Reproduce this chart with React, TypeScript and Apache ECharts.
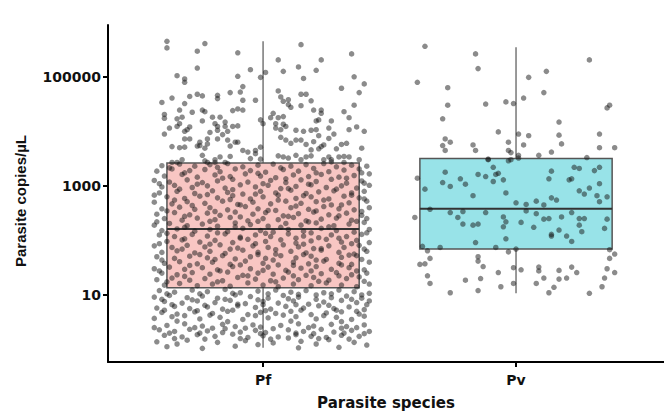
import React, { useEffect, useRef } from "react";
import * as echarts from "echarts";

// Categories and tick labels
const species = ["Pf", "Pv"];
const yTickValues = [10, 1000, 100000];

// Box statistics in log10(parasite copies/µL): [q1, median, q3, lowerWhisker, upperWhisker]
const pfBox = [1.13, 2.21, 3.42, 0.03, 5.65];
const pvBox = [1.84, 2.58, 3.5, 1.03, 5.54];

// Jittered points: [horizontal jitter (category units), log10(parasite copies/µL)]
const pfUpper: number[][] = [
  [-0.38,5.65],[-0.38,5.53],[-0.23,5.61],[-0.26,5.47],[-0.10,5.44],[0.15,5.59],[0.35,5.42],[0.06,5.31],[0.23,5.31],[0.14,5.18],
  [-0.26,5.16],[-0.05,5.13],[0.08,5.10],[0.21,5.12],[-0.34,5.02],[-0.31,4.96],[-0.31,4.90],[-0.10,5.01],[0.01,5.08],[-0.01,4.99],
  [0.16,4.97],[0.36,5.00],[0.40,4.87],[0.31,4.79],[-0.08,4.82],[-0.09,4.72],[-0.13,4.71],[0.06,4.74],[0.38,4.71],[-0.26,4.68],
  [-0.29,4.64],[-0.24,4.65],[-0.36,4.61],[-0.18,4.66],[-0.18,4.60],[-0.08,4.57],[-0.03,4.57],[0.15,4.68],[0.17,4.68],[0.07,4.63],
  [0.08,4.55],[0.10,4.58],[0.10,4.49],[0.19,4.56],[-0.40,4.53],[-0.31,4.51],[0.36,4.48],[0.15,4.47],[0.11,4.44],[-0.33,4.39],
  [-0.28,4.35],[-0.24,4.39],[-0.23,4.36],[-0.12,4.38],[-0.10,4.41],[-0.08,4.39],[0.03,4.25],[0.04,4.33],[0.06,4.25],[0.08,4.27],
  [0.20,4.39],[0.23,4.39],[0.23,4.33],[0.32,4.36],[0.34,4.25],[-0.39,4.31],[-0.39,4.24],[-0.34,4.23],[-0.32,4.26],[-0.20,4.26],
  [-0.17,4.26],[-0.15,4.17],[-0.24,4.19],[-0.19,4.14],[-0.15,4.09],[-0.18,4.09],[-0.12,4.09],[-0.10,4.10],[-0.01,4.21],[0.00,4.14],
  [0.05,4.14],[0.05,4.06],[0.08,4.13],[0.09,4.09],[0.21,4.19],[0.22,4.21],[0.27,4.19],[0.26,4.06],[0.34,4.03],[0.37,4.08],
  [0.40,4.00],[-0.37,4.06],[-0.34,4.09],[-0.33,4.14],[-0.29,4.08],[-0.30,4.03],[-0.31,4.00],[-0.39,3.95],[-0.21,3.98],[-0.18,4.02],
  [-0.14,4.00],[-0.16,3.94],[-0.14,3.84],[-0.11,3.80],[-0.10,3.80],[-0.18,3.86],[-0.22,3.86],[-0.25,3.80],[-0.31,3.86],[-0.29,3.86],
  [0.07,4.03],[0.07,3.89],[0.13,4.02],[0.16,4.00],[0.19,4.02],[0.21,4.03],[0.22,3.92],[0.26,3.87],[0.28,3.95],[0.24,3.75],
  [0.20,3.81],[0.09,3.84],[0.11,3.78],[0.13,3.84],[0.15,3.84],[0.17,3.76],[0.29,3.68],[0.31,3.76],[0.33,3.78],[0.19,3.66],
  [0.22,3.68],[0.23,3.72],[-0.36,3.72],[-0.33,3.70],[-0.31,3.71],[-0.26,3.73],[-0.25,3.74],[-0.23,3.69],[-0.22,3.77],[-0.13,3.73],
  [-0.08,3.65],[-0.06,3.62],[-0.01,3.71],[-0.03,3.65],[-0.03,3.59],[-0.05,3.50],[-0.01,3.49],[-0.24,3.56],[-0.23,3.46],[-0.32,3.48],
  [-0.34,3.43],[-0.19,3.48],[-0.17,3.53],[-0.13,3.54],[0.06,3.55],[0.08,3.53],[0.10,3.51],[0.13,3.56],[0.17,3.53],[0.19,3.55],
  [0.15,3.48],[0.24,3.48],[0.26,3.53],[0.30,3.53],[0.32,3.54],[0.34,3.53],[0.39,3.69],[0.38,3.48],[0.27,3.48],[0.32,3.43],
  [-0.36,3.43],[-0.22,3.43],[-0.19,3.43],[-0.15,3.43]
];

const pfMiddle: number[][] = [
  [-0.40,3.37],[-0.33,3.40],[-0.27,3.36],[-0.21,3.39],[-0.14,3.41],[-0.08,3.35],[-0.02,3.38],[0.04,3.40],[0.11,3.36],[0.17,3.39],[0.24,3.41],[0.29,3.35],[0.35,3.38],[0.41,3.36],
  [-0.42,3.27],[-0.36,3.31],[-0.29,3.28],[-0.23,3.30],[-0.17,3.26],[-0.11,3.31],[-0.05,3.28],[0.01,3.25],[0.08,3.30],[0.14,3.27],[0.20,3.32],[0.26,3.26],[0.32,3.29],[0.38,3.31],
  [-0.39,3.18],[-0.32,3.21],[-0.26,3.16],[-0.19,3.20],[-0.13,3.17],[-0.07,3.22],[-0.01,3.18],[0.05,3.15],[0.12,3.20],[0.18,3.17],[0.23,3.21],[0.30,3.16],[0.36,3.19],[0.42,3.22],
  [-0.43,3.10],[-0.37,3.07],[-0.30,3.11],[-0.24,3.06],[-0.18,3.09],[-0.12,3.12],[-0.06,3.07],[0.03,3.10],[0.09,3.06],[0.15,3.11],[0.21,3.08],[0.27,3.12],[0.33,3.05],[0.39,3.09],
  [-0.40,2.98],[-0.35,3.01],[-0.28,2.97],[-0.22,3.00],[-0.15,2.96],[-0.09,3.02],[-0.03,2.98],[0.02,3.01],[0.07,2.95],[0.13,2.99],[0.19,3.02],[0.25,2.97],[0.31,3.00],[0.37,2.96],[0.42,3.01],
  [-0.41,2.87],[-0.34,2.90],[-0.27,2.86],[-0.20,2.91],[-0.14,2.88],[-0.08,2.85],[-0.01,2.90],[0.05,2.87],[0.11,2.92],[0.17,2.86],[0.22,2.89],[0.28,2.91],[0.35,2.87],[0.40,2.90],
  [-0.38,2.80],[-0.31,2.77],[-0.25,2.81],[-0.18,2.78],[-0.12,2.82],[-0.05,2.76],[0.00,2.80],[0.06,2.83],[0.13,2.77],[0.19,2.80],[0.26,2.76],[0.32,2.81],[0.38,2.78],
  [-0.43,2.70],[-0.36,2.67],[-0.30,2.71],[-0.23,2.68],[-0.16,2.72],[-0.10,2.66],[-0.04,2.70],[0.03,2.67],[0.09,2.72],[0.15,2.68],[0.21,2.71],[0.27,2.65],[0.34,2.69],[0.41,2.72],
  [-0.40,2.58],[-0.33,2.61],[-0.27,2.57],[-0.21,2.60],[-0.14,2.56],[-0.07,2.62],[-0.02,2.58],[0.05,2.55],[0.11,2.60],[0.18,2.57],[0.24,2.62],[0.30,2.58],[0.36,2.56],[0.42,2.60],
  [-0.42,2.48],[-0.35,2.51],[-0.29,2.47],[-0.22,2.50],[-0.17,2.46],[-0.11,2.52],[-0.04,2.48],[0.01,2.51],[0.08,2.45],[0.14,2.49],[0.20,2.52],[0.26,2.47],[0.33,2.50],[0.39,2.46],
  [-0.39,2.40],[-0.32,2.37],[-0.26,2.41],[-0.19,2.38],[-0.13,2.42],[-0.06,2.36],[0.00,2.40],[0.06,2.38],[0.12,2.42],[0.17,2.36],[0.23,2.39],[0.29,2.41],[0.35,2.37],[0.41,2.40],
  [-0.43,2.28],[-0.37,2.31],[-0.30,2.27],[-0.24,2.30],[-0.18,2.26],[-0.11,2.32],[-0.05,2.29],[0.02,2.26],[0.09,2.31],[0.15,2.28],[0.21,2.32],[0.28,2.27],[0.34,2.30],[0.40,2.33],
  [-0.40,2.18],[-0.34,2.21],[-0.27,2.17],[-0.21,2.20],[-0.14,2.16],[-0.08,2.22],[-0.01,2.18],[0.04,2.15],[0.10,2.20],[0.16,2.17],[0.23,2.22],[0.29,2.18],[0.36,2.15],[0.42,2.20],
  [-0.41,2.10],[-0.35,2.07],[-0.28,2.11],[-0.22,2.08],[-0.15,2.12],[-0.09,2.06],[-0.03,2.10],[0.03,2.07],[0.10,2.12],[0.16,2.08],[0.22,2.05],[0.27,2.10],[0.33,2.07],[0.39,2.11],
  [-0.38,1.98],[-0.32,2.01],[-0.25,1.97],[-0.19,2.00],[-0.12,1.96],[-0.06,2.02],[0.01,1.98],[0.07,2.01],[0.13,1.95],[0.19,1.99],[0.25,2.02],[0.31,1.97],[0.37,2.00],[0.42,1.96],
  [-0.43,1.90],[-0.36,1.87],[-0.30,1.91],[-0.23,1.88],[-0.17,1.92],[-0.10,1.86],[-0.04,1.90],[0.02,1.87],[0.08,1.92],[0.14,1.88],[0.20,1.85],[0.26,1.90],[0.32,1.87],[0.38,1.91],
  [-0.40,1.78],[-0.34,1.81],[-0.27,1.77],[-0.21,1.80],[-0.15,1.76],[-0.08,1.82],[-0.02,1.78],[0.05,1.75],[0.11,1.80],[0.17,1.77],[0.23,1.82],[0.30,1.78],[0.36,1.75],[0.41,1.80],
  [-0.42,1.70],[-0.35,1.67],[-0.29,1.71],[-0.22,1.68],[-0.16,1.72],[-0.11,1.66],[-0.05,1.70],[0.01,1.67],[0.07,1.72],[0.13,1.68],[0.19,1.71],[0.25,1.65],[0.31,1.69],[0.37,1.72],
  [-0.39,1.58],[-0.33,1.61],[-0.26,1.57],[-0.20,1.60],[-0.13,1.56],[-0.07,1.62],[0.00,1.58],[0.06,1.55],[0.12,1.60],[0.18,1.57],[0.24,1.62],[0.30,1.58],[0.35,1.56],[0.42,1.60],
  [-0.43,1.48],[-0.37,1.51],[-0.31,1.47],[-0.24,1.50],[-0.18,1.46],[-0.12,1.52],[-0.05,1.48],[0.02,1.51],[0.09,1.45],[0.15,1.49],[0.21,1.52],[0.27,1.47],[0.34,1.50],[0.40,1.46],
  [-0.40,1.40],[-0.34,1.37],[-0.28,1.41],[-0.21,1.38],[-0.14,1.42],[-0.08,1.36],[-0.02,1.40],[0.04,1.38],[0.10,1.42],[0.17,1.36],[0.23,1.39],[0.29,1.41],[0.35,1.37],[0.41,1.40],
  [-0.42,1.28],[-0.36,1.31],[-0.29,1.27],[-0.23,1.30],[-0.16,1.26],[-0.10,1.32],[-0.03,1.29],[0.03,1.26],[0.08,1.31],[0.14,1.28],[0.20,1.32],[0.26,1.27],[0.33,1.30],[0.38,1.33],
  [-0.39,1.18],[-0.33,1.21],[-0.26,1.17],[-0.20,1.20],[-0.13,1.16],[-0.06,1.22],[0.00,1.18],[0.06,1.15],[0.12,1.20],[0.19,1.17],[0.25,1.22],[0.31,1.18],[0.37,1.15],[0.42,1.20]
];

const pfMiddleExtra: number[][] = [
  [-0.37,3.33],[-0.18,3.34],[0.07,3.33],[0.27,3.44],[0.39,3.24],
  [-0.31,3.24],[-0.02,3.23],[0.21,3.24],[-0.16,3.14],[0.09,3.13],[0.33,3.14],
  [-0.41,3.04],[-0.26,3.03],[0.00,3.04],[0.18,3.03],[0.40,3.05],
  [-0.33,2.94],[-0.12,2.93],[0.10,2.95],[0.29,2.94],
  [-0.43,2.83],[-0.22,2.84],[-0.03,2.85],[0.16,2.82],[0.35,2.83],
  [-0.35,2.74],[-0.13,2.75],[0.06,2.74],[0.24,2.74],[0.40,2.76],
  [-0.28,2.64],[-0.09,2.65],[0.13,2.63],[0.31,2.65],
  [-0.38,2.54],[-0.19,2.53],[0.02,2.55],[0.21,2.54],[0.39,2.53],
  [-0.31,2.44],[-0.09,2.43],[0.10,2.44],[0.30,2.45],
  [-0.42,2.34],[-0.21,2.35],[-0.02,2.35],[0.18,2.34],[0.37,2.35],
  [-0.31,2.24],[-0.11,2.25],[0.07,2.24],[0.26,2.25],
  [-0.38,2.13],[-0.18,2.14],[0.01,2.13],[0.19,2.14],[0.41,2.14],
  [-0.31,2.03],[-0.09,2.04],[0.13,2.04],[0.30,2.04],
  [-0.41,1.94],[-0.21,1.93],[-0.03,1.94],[0.16,1.93],[0.35,1.94],
  [-0.32,1.84],[-0.13,1.84],[0.05,1.83],[0.23,1.85],[0.40,1.84],
  [-0.25,1.74],[-0.02,1.74],[0.16,1.74],[0.34,1.73],
  [-0.40,1.64],[-0.19,1.65],[0.04,1.64],[0.21,1.64],[0.39,1.65],
  [-0.29,1.54],[-0.09,1.55],[0.12,1.54],[0.31,1.55],
  [-0.41,1.44],[-0.17,1.44],[0.00,1.45],[0.19,1.44],[0.37,1.44],
  [-0.31,1.34],[-0.06,1.35],[0.12,1.35],[0.30,1.35],
  [-0.38,1.24],[-0.18,1.24],[0.05,1.24],[0.22,1.25],[0.40,1.25]
];

const pfLower: number[][] = [
  [-0.41,1.08],[-0.35,1.05],[-0.28,1.09],[-0.22,1.06],[-0.15,1.10],[-0.09,1.04],[-0.02,1.07],[0.05,1.09],[0.11,1.05],[0.17,1.08],[0.24,1.04],[0.30,1.09],[0.36,1.06],[0.42,1.03],
  [-0.43,0.96],[-0.37,0.99],[-0.30,0.95],[-0.24,0.98],[-0.18,0.94],[-0.11,1.00],[-0.05,0.97],[0.02,0.94],[0.08,0.99],[0.14,0.96],[0.21,1.00],[0.27,0.95],[0.33,0.98],[0.39,0.94],
  [-0.39,0.88],[-0.32,0.85],[-0.26,0.89],[-0.19,0.86],[-0.13,0.90],[-0.07,0.84],[0.00,0.88],[0.06,0.85],[0.12,0.89],[0.18,0.83],[0.24,0.87],[0.31,0.90],[0.37,0.86],[0.42,0.89],
  [-0.42,0.76],[-0.35,0.79],[-0.29,0.75],[-0.22,0.78],[-0.16,0.74],[-0.10,0.80],[-0.03,0.77],[0.03,0.74],[0.09,0.79],[0.16,0.76],[0.22,0.80],[0.28,0.75],[0.34,0.78],[0.40,0.73],
  [-0.40,0.68],[-0.34,0.65],[-0.27,0.69],[-0.20,0.66],[-0.14,0.70],[-0.06,0.64],[-0.01,0.68],[0.05,0.66],[0.11,0.70],[0.19,0.64],[0.25,0.67],[0.31,0.69],[0.38,0.65],
  [-0.43,0.57],[-0.36,0.60],[-0.25,0.56],[-0.17,0.59],[-0.08,0.55],[0.02,0.58],[0.13,0.60],[0.21,0.56],[0.29,0.59],[0.35,0.55],
  [-0.38,0.44],[-0.31,0.47],[-0.24,0.43],[-0.16,0.46],[-0.11,0.42],[-0.04,0.45],[-0.01,0.41],[0.07,0.44],[0.14,0.47],[0.20,0.43],[0.27,0.46],[0.33,0.42],[0.40,0.45],
  [-0.41,0.36],[-0.35,0.33],[-0.29,0.37],[-0.22,0.34],[-0.15,0.38],[-0.09,0.32],[-0.03,0.35],[0.01,0.31],[0.10,0.36],[0.16,0.33],[0.23,0.37],[0.28,0.32],[0.35,0.35],[0.42,0.33],
  [-0.39,0.26],[-0.32,0.23],[-0.26,0.27],[-0.19,0.24],[-0.12,0.28],[-0.06,0.22],[0.00,0.25],[0.06,0.23],[0.13,0.27],[0.19,0.24],[0.25,0.22],[0.31,0.26],[0.38,0.24],
  [-0.42,0.14],[-0.30,0.17],[-0.18,0.13],[-0.07,0.16],[0.04,0.12],[0.15,0.15],[0.26,0.18],[0.36,0.13],
  [-0.38,0.05],[-0.24,0.02],[-0.11,0.06],[0.14,0.03],[0.30,0.04]
];

const pfLowerExtra: number[][] = [
  [-0.38,1.02],[-0.25,1.02],[-0.12,1.03],[0.02,1.02],[0.14,1.01],[0.27,1.02],[0.39,1.00],
  [-0.40,0.92],[-0.28,0.91],[-0.15,0.92],[-0.02,0.91],[0.10,0.93],[0.21,0.92],[0.35,0.92],
  [-0.36,0.82],[-0.23,0.81],[-0.10,0.83],[0.00,0.82],[0.13,0.82],[0.26,0.81],[0.41,0.82],
  [-0.39,0.72],[-0.26,0.71],[-0.12,0.72],[0.01,0.71],[0.15,0.72],[0.29,0.72],[0.37,0.70],
  [-0.31,0.62],[-0.21,0.63],[-0.03,0.62],[0.08,0.63],[0.24,0.62],[0.40,0.61],
  [-0.34,0.52],[-0.14,0.51],[0.11,0.52],[0.31,0.51],
  [-0.43,0.40],[-0.27,0.40],[-0.20,0.39],[-0.07,0.39],[0.04,0.38],[0.18,0.40],[0.31,0.39],[0.37,0.40],
  [-0.37,0.30],[-0.25,0.30],[-0.16,0.31],[-0.01,0.29],[0.13,0.30],[0.20,0.29],[0.32,0.30],[0.40,0.29],
  [-0.35,0.20],[-0.23,0.19],[-0.09,0.20],[0.03,0.19],[0.10,0.21],[0.22,0.20],[0.34,0.19],
  [-0.34,0.10],[-0.02,0.09],[0.21,0.10],[0.41,0.08]
];

const pvPoints: number[][] = [
  [-0.36,5.56],[-0.16,5.42],[-0.15,5.15],[0.29,5.31],[-0.39,4.90],[-0.27,4.80],[0.05,4.99],[0.12,5.10],[-0.27,4.48],[-0.12,4.50],
  [-0.04,4.54],[-0.01,4.51],[0.03,4.61],[0.11,4.71],[0.36,4.43],[0.37,4.48],[-0.29,4.23],[0.17,4.17],[-0.07,3.99],[0.01,3.95],
  [0.05,3.92],[0.17,3.93],[0.33,3.95],[-0.28,3.86],[-0.26,3.80],[-0.29,3.74],[-0.28,3.65],[-0.17,3.75],[-0.16,3.65],[-0.03,3.80],
  [0.03,3.75],[0.18,3.77],[-0.03,3.65],[-0.02,3.61],[0.01,3.56],[0.09,3.56],[0.14,3.62],[0.33,3.70],[0.39,3.70],[0.28,3.52],
  [-0.11,3.49],[-0.02,3.48],[0.01,3.51],
  [-0.39,3.14],[-0.36,2.94],[-0.28,3.25],[-0.29,3.06],[-0.26,2.99],[-0.22,3.13],[-0.20,3.03],[-0.15,3.21],[-0.12,3.17],[-0.09,3.34],
  [-0.08,3.21],[-0.07,3.23],[-0.09,3.08],[-0.05,3.11],[-0.11,3.48],[-0.03,3.46],[-0.17,2.82],[-0.04,2.87],[0.00,2.69],[0.04,2.66],
  [0.08,2.72],[0.11,2.65],[0.14,2.78],[0.16,2.74],[0.13,3.13],[0.14,3.27],[0.21,3.11],[0.22,3.13],[0.23,3.34],[0.25,3.32],
  [0.31,3.28],[0.33,3.34],[0.33,3.04],[0.29,2.96],[0.25,2.91],[0.27,2.85],[0.32,2.82],[0.33,2.71],[0.36,2.80],[-0.40,2.42],
  [-0.34,2.57],[-0.26,2.51],[-0.23,2.42],[-0.21,2.53],[-0.21,2.30],[-0.17,2.28],[-0.15,2.30],[-0.12,2.51],[-0.05,2.43],[-0.04,2.34],
  [-0.05,2.25],[-0.04,2.03],[0.02,2.33],[0.04,2.54],[0.08,2.49],[0.07,2.24],[0.11,2.39],[0.13,2.40],[0.14,2.08],[0.14,2.11],
  [0.17,2.19],[0.18,2.43],[0.20,2.08],[0.22,2.51],[0.22,1.98],[0.25,2.40],[0.27,2.40],[0.25,2.28],[0.26,2.16],[0.35,2.22],
  [0.36,2.39],[-0.16,1.96],[0.37,1.83],
  [-0.26,1.04],[-0.15,1.08],[-0.06,1.15],[-0.01,1.21],[0.08,1.21],[0.13,1.04],[0.15,1.14],[0.29,1.03],[0.34,1.15],[-0.34,1.21],
  [-0.35,1.35],[-0.20,1.27],[-0.14,1.30],[-0.07,1.41],[-0.01,1.50],[0.02,1.46],[0.09,1.51],[0.09,1.44],[0.11,1.31],[0.17,1.45],
  [0.17,1.29],[0.20,1.31],[0.22,1.51],[0.24,1.41],[0.35,1.31],[0.36,1.48],[0.39,1.41],[0.37,1.67],[0.39,1.75],[-0.34,1.67],
  [-0.36,1.57],[-0.38,1.56],[-0.15,1.70],[-0.15,1.62],[-0.13,1.52],[-0.35,1.81],[-0.03,1.79],[-0.08,1.87],[0.00,1.84],[-0.30,1.87],
  [-0.37,1.89]
];

const boxColors = ["#F8C6C3", "#98E3E8"];
const boxWidth = 0.76;

export default function App() {
  const ref = useRef<HTMLDivElement>(null);
  useEffect(() => {
    if (!ref.current) return;
    const chart = echarts.init(ref.current, undefined, { renderer: "svg" });
    const pfAll = [...pfUpper, ...pfMiddle, ...pfMiddleExtra, ...pfLower, ...pfLowerExtra];
    const scatterData = [
      ...pfAll.map(([j, v]) => [0 + j, v]),
      ...pvPoints.map(([j, v]) => [1 + j, v]),
    ];
    const boxData = [
      [0, ...pfBox],
      [1, ...pvBox],
    ];
    const axisFont = { fontFamily: "DejaVu Sans", fontWeight: "bold" as const, color: "#111" };
    chart.setOption({
      animation: false,
      grid: { left: 108, right: 0, top: 25, bottom: 55, containLabel: false, outerBoundsMode: "none" },
      xAxis: {
        type: "value",
        min: -0.613,
        max: 1.585,
        splitLine: { show: false },
        axisLine: { show: true, onZero: false, lineStyle: { color: "#000", width: 2 } },
        axisTick: { show: true, customValues: [0, 1], length: 5, lineStyle: { color: "#000", width: 2 } },
        axisLabel: {
          customValues: [0, 1],
          formatter: (v: number) => species[Math.round(v)] ?? "",
          margin: 11,
          fontSize: 14,
          ...axisFont,
        },
        name: "Parasite species",
        nameLocation: "middle",
        nameGap: 33,
        nameTextStyle: { fontSize: 15, ...axisFont },
      },
      yAxis: {
        type: "value",
        min: -0.23,
        max: 5.95,
        splitLine: { show: false },
        axisLine: { show: true, onZero: false, lineStyle: { color: "#000", width: 2 } },
        axisTick: { show: true, customValues: yTickValues.map((v) => Math.log10(v)), length: 5, lineStyle: { color: "#000", width: 2 } },
        axisLabel: {
          customValues: yTickValues.map((v) => Math.log10(v)),
          formatter: (v: number) => String(Math.round(Math.pow(10, v))),
          margin: 7,
          fontSize: 14,
          ...axisFont,
        },
      },
      graphic: [
        {
          type: "text",
          x: 20,
          y: 201,
          rotation: Math.PI / 2,
          style: {
            text: "Parasite copies/µL",
            fontFamily: "Liberation Sans",
            fontWeight: "bold",
            fontSize: 15,
            fill: "#111",
            align: "center",
            verticalAlign: "middle",
          },
        },
      ],
      series: [
        {
          type: "custom",
          z: 2,
          data: boxData,
          encode: { x: 0, y: [1, 2, 3, 4, 5] },
          renderItem: (params: any, api: any) => {
            const i = api.value(0);
            const q1 = api.coord([i, api.value(1)]);
            const med = api.coord([i, api.value(2)]);
            const q3 = api.coord([i, api.value(3)]);
            const lo = api.coord([i, api.value(4)]);
            const hi = api.coord([i, api.value(5)]);
            const hw = api.size([boxWidth, 0])[0] / 2;
            const cx = q1[0];
            return {
              type: "group",
              children: [
                { type: "line", shape: { x1: cx, y1: hi[1], x2: cx, y2: q3[1] }, style: { stroke: "#555", lineWidth: 1.2 } },
                { type: "line", shape: { x1: cx, y1: q1[1], x2: cx, y2: lo[1] }, style: { stroke: "#555", lineWidth: 1.2 } },
                {
                  type: "rect",
                  shape: { x: cx - hw, y: q3[1], width: hw * 2, height: q1[1] - q3[1] },
                  style: { fill: boxColors[i], stroke: "#555", lineWidth: 1.5 },
                },
                { type: "line", shape: { x1: cx - hw, y1: med[1], x2: cx + hw, y2: med[1] }, style: { stroke: "#333", lineWidth: 2 } },
              ],
            };
          },
        },
        {
          type: "scatter",
          z: 3,
          data: scatterData,
          symbol: "circle",
          symbolSize: 5.5,
          itemStyle: { color: "rgba(20,20,20,0.62)" },
          silent: true,
        },
      ],
    });
    return () => chart.dispose();
  }, []);
  return <div ref={ref} style={{ width: 664, height: 417, position: "absolute", left: 0, top: 0 }} />;
}
